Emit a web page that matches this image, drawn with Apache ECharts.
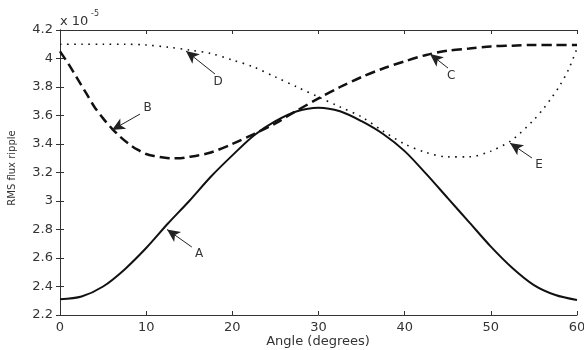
<!DOCTYPE html>
<html>
<head>
<meta charset="utf-8">
<script src="https://cdn.jsdelivr.net/npm/echarts@6/dist/echarts.min.js"></script>
<style>
  html, body { margin: 0; padding: 0; background: #fff; }
  #chart { width: 584px; height: 350px; }
</style>
</head>
<body>
<div id="chart"></div>
<script>
// Curve A (solid): RMS flux ripple vs angle
const angleA = [0, 2.5, 5, 7.5, 10, 12.5, 15, 17.5, 20, 22.5, 25, 27.5, 30,
  32.5, 35, 37.5, 40, 42.5, 45, 47.5, 50, 52.5, 55, 57.5, 60];
const rippleA = [2.31, 2.33, 2.40, 2.52, 2.67, 2.84, 3.00, 3.17, 3.32, 3.46, 3.56, 3.63, 3.655,
  3.63, 3.56, 3.47, 3.35, 3.19, 3.02, 2.85, 2.68, 2.53, 2.41, 2.34, 2.305];

// Curve B/C (dashed)
const angleBC = [0, 1, 2, 3, 4, 5, 6, 7, 8, 9, 10, 11, 12, 13, 14, 15, 16, 17.5, 20, 22.5, 25,
  27.5, 30, 32.5, 35, 37.5, 40, 42.5, 45, 47.5, 50, 52.5, 55, 57.5, 60];
const rippleBC = [4.05, 3.96, 3.86, 3.76, 3.66, 3.58, 3.51, 3.45, 3.40, 3.36, 3.33, 3.315, 3.305,
  3.30, 3.30, 3.31, 3.32, 3.34, 3.40, 3.47, 3.545, 3.635, 3.72, 3.80, 3.87, 3.93, 3.98, 4.025,
  4.055, 4.07, 4.085, 4.09, 4.095, 4.095, 4.095];

// Curve D/E (dotted)
const angleDE = [0, 2.5, 5, 7.5, 10, 12.5, 15, 17.5, 20, 22.5, 25, 27.5, 30, 32.5, 35, 37.5,
  40, 42.5, 45, 47.5, 50, 52.5, 55, 56, 57, 58, 59, 60];
const rippleDE = [4.10, 4.10, 4.10, 4.10, 4.095, 4.08, 4.06, 4.035, 3.99, 3.94, 3.87, 3.80, 3.73,
  3.66, 3.59, 3.49, 3.40, 3.34, 3.31, 3.31, 3.35, 3.43, 3.57, 3.64, 3.72, 3.81, 3.92, 4.07];

// Arrow callouts: label, tail [angle, ripple], tip [angle, ripple]
const calloutNames = ['A', 'B', 'C', 'D', 'E'];
const calloutTails = [[15.3, 2.677], [9.28, 3.61], [45.03, 3.933], [17.99, 3.891], [54.77, 3.302]];
const calloutTips = [[12.42, 2.80], [6.03, 3.498], [42.94, 4.032], [14.62, 4.053], [52.22, 3.407]];

// Axis ticks and titles
const xTicks = { min: 0, max: 60, step: 10 };
const yTicks = { min: 2.2, max: 4.2, step: 0.2 };
const xTitle = 'Angle (degrees)';
const yTitle = 'RMS flux ripple';

const FONT = 'DejaVu Sans';
const INK = '#111';
const TEXT = '#333';

const pairs = (xs, ys) => xs.map((x, i) => [x, ys[i]]);

const chart = echarts.init(document.getElementById('chart'), null, { renderer: 'canvas' });

const callouts = calloutNames.map((name, i) => [
  { name: name, coord: calloutTails[i] },
  { coord: calloutTips[i] }
]);

const boxAxis = {
  axisLine: { show: true, lineStyle: { color: '#333', width: 1 } },
  axisTick: { show: true, inside: true, length: 4, lineStyle: { color: '#333' } },
  splitLine: { show: false }
};

chart.setOption({
  animation: false,
  backgroundColor: '#fff',
  grid: { left: 60, right: 7, top: 30, bottom: 35, containLabel: false, outerBoundsMode: 'none' },
  xAxis: [
    Object.assign({
      type: 'value', position: 'bottom',
      min: xTicks.min, max: xTicks.max, interval: xTicks.step,
      axisLabel: { fontFamily: FONT, fontSize: 13, color: TEXT, margin: 6 }
    }, boxAxis),
    Object.assign({
      type: 'value', position: 'top',
      min: xTicks.min, max: xTicks.max, interval: xTicks.step,
      axisLabel: { show: false }
    }, boxAxis)
  ],
  yAxis: [
    Object.assign({
      type: 'value', position: 'left',
      min: yTicks.min, max: yTicks.max, interval: yTicks.step,
      axisLabel: {
        fontFamily: FONT, fontSize: 13, color: TEXT, margin: 7,
        formatter: v => String(+v.toFixed(1))
      }
    }, boxAxis),
    Object.assign({
      type: 'value', position: 'right',
      min: yTicks.min, max: yTicks.max, interval: yTicks.step,
      axisLabel: { show: false }
    }, boxAxis)
  ],
  graphic: [
    // scale factor label above the value axis
    { type: 'text', left: 60, top: 15, style: { text: 'x 10', font: '13px "DejaVu Sans"', fill: TEXT } },
    { type: 'text', left: 91, top: 10, style: { text: '-5', font: '8px "DejaVu Sans"', fill: TEXT } },
    // axis titles
    {
      type: 'text', x: 318, y: 342,
      style: { text: xTitle, font: '13px "DejaVu Sans"', fill: TEXT, align: 'center', verticalAlign: 'middle' }
    },
    {
      type: 'text', x: 12, y: 168, rotation: Math.PI / 2,
      style: { text: yTitle, font: '10px "DejaVu Sans"', fill: TEXT, align: 'center', verticalAlign: 'middle' }
    }
  ],
  series: [
    {
      type: 'line', name: 'A', data: pairs(angleA, rippleA), smooth: 0.3,
      showSymbol: false, lineStyle: { color: INK, width: 2 }, z: 3
    },
    {
      type: 'line', name: 'B/C', data: pairs(angleBC, rippleBC), smooth: 0.3,
      showSymbol: false, lineStyle: { color: INK, width: 2.5, type: [10, 5] }, z: 4
    },
    {
      type: 'line', name: 'D/E', data: pairs(angleDE, rippleDE), smooth: 0.3,
      showSymbol: false, lineStyle: { color: INK, width: 1.6, type: [1.6, 5.5] }, z: 5,
      markLine: {
        silent: true,
        symbol: ['none', 'arrow'],
        symbolSize: [9, 13],
        lineStyle: { color: '#222', width: 1, type: 'solid' },
        label: {
          show: true, position: 'start', distance: [4, 12],
          formatter: p => p.name,
          fontFamily: FONT, fontSize: 12, color: TEXT
        },
        emphasis: { disabled: true },
        data: callouts
      }
    }
  ]
});
</script>
</body>
</html>
